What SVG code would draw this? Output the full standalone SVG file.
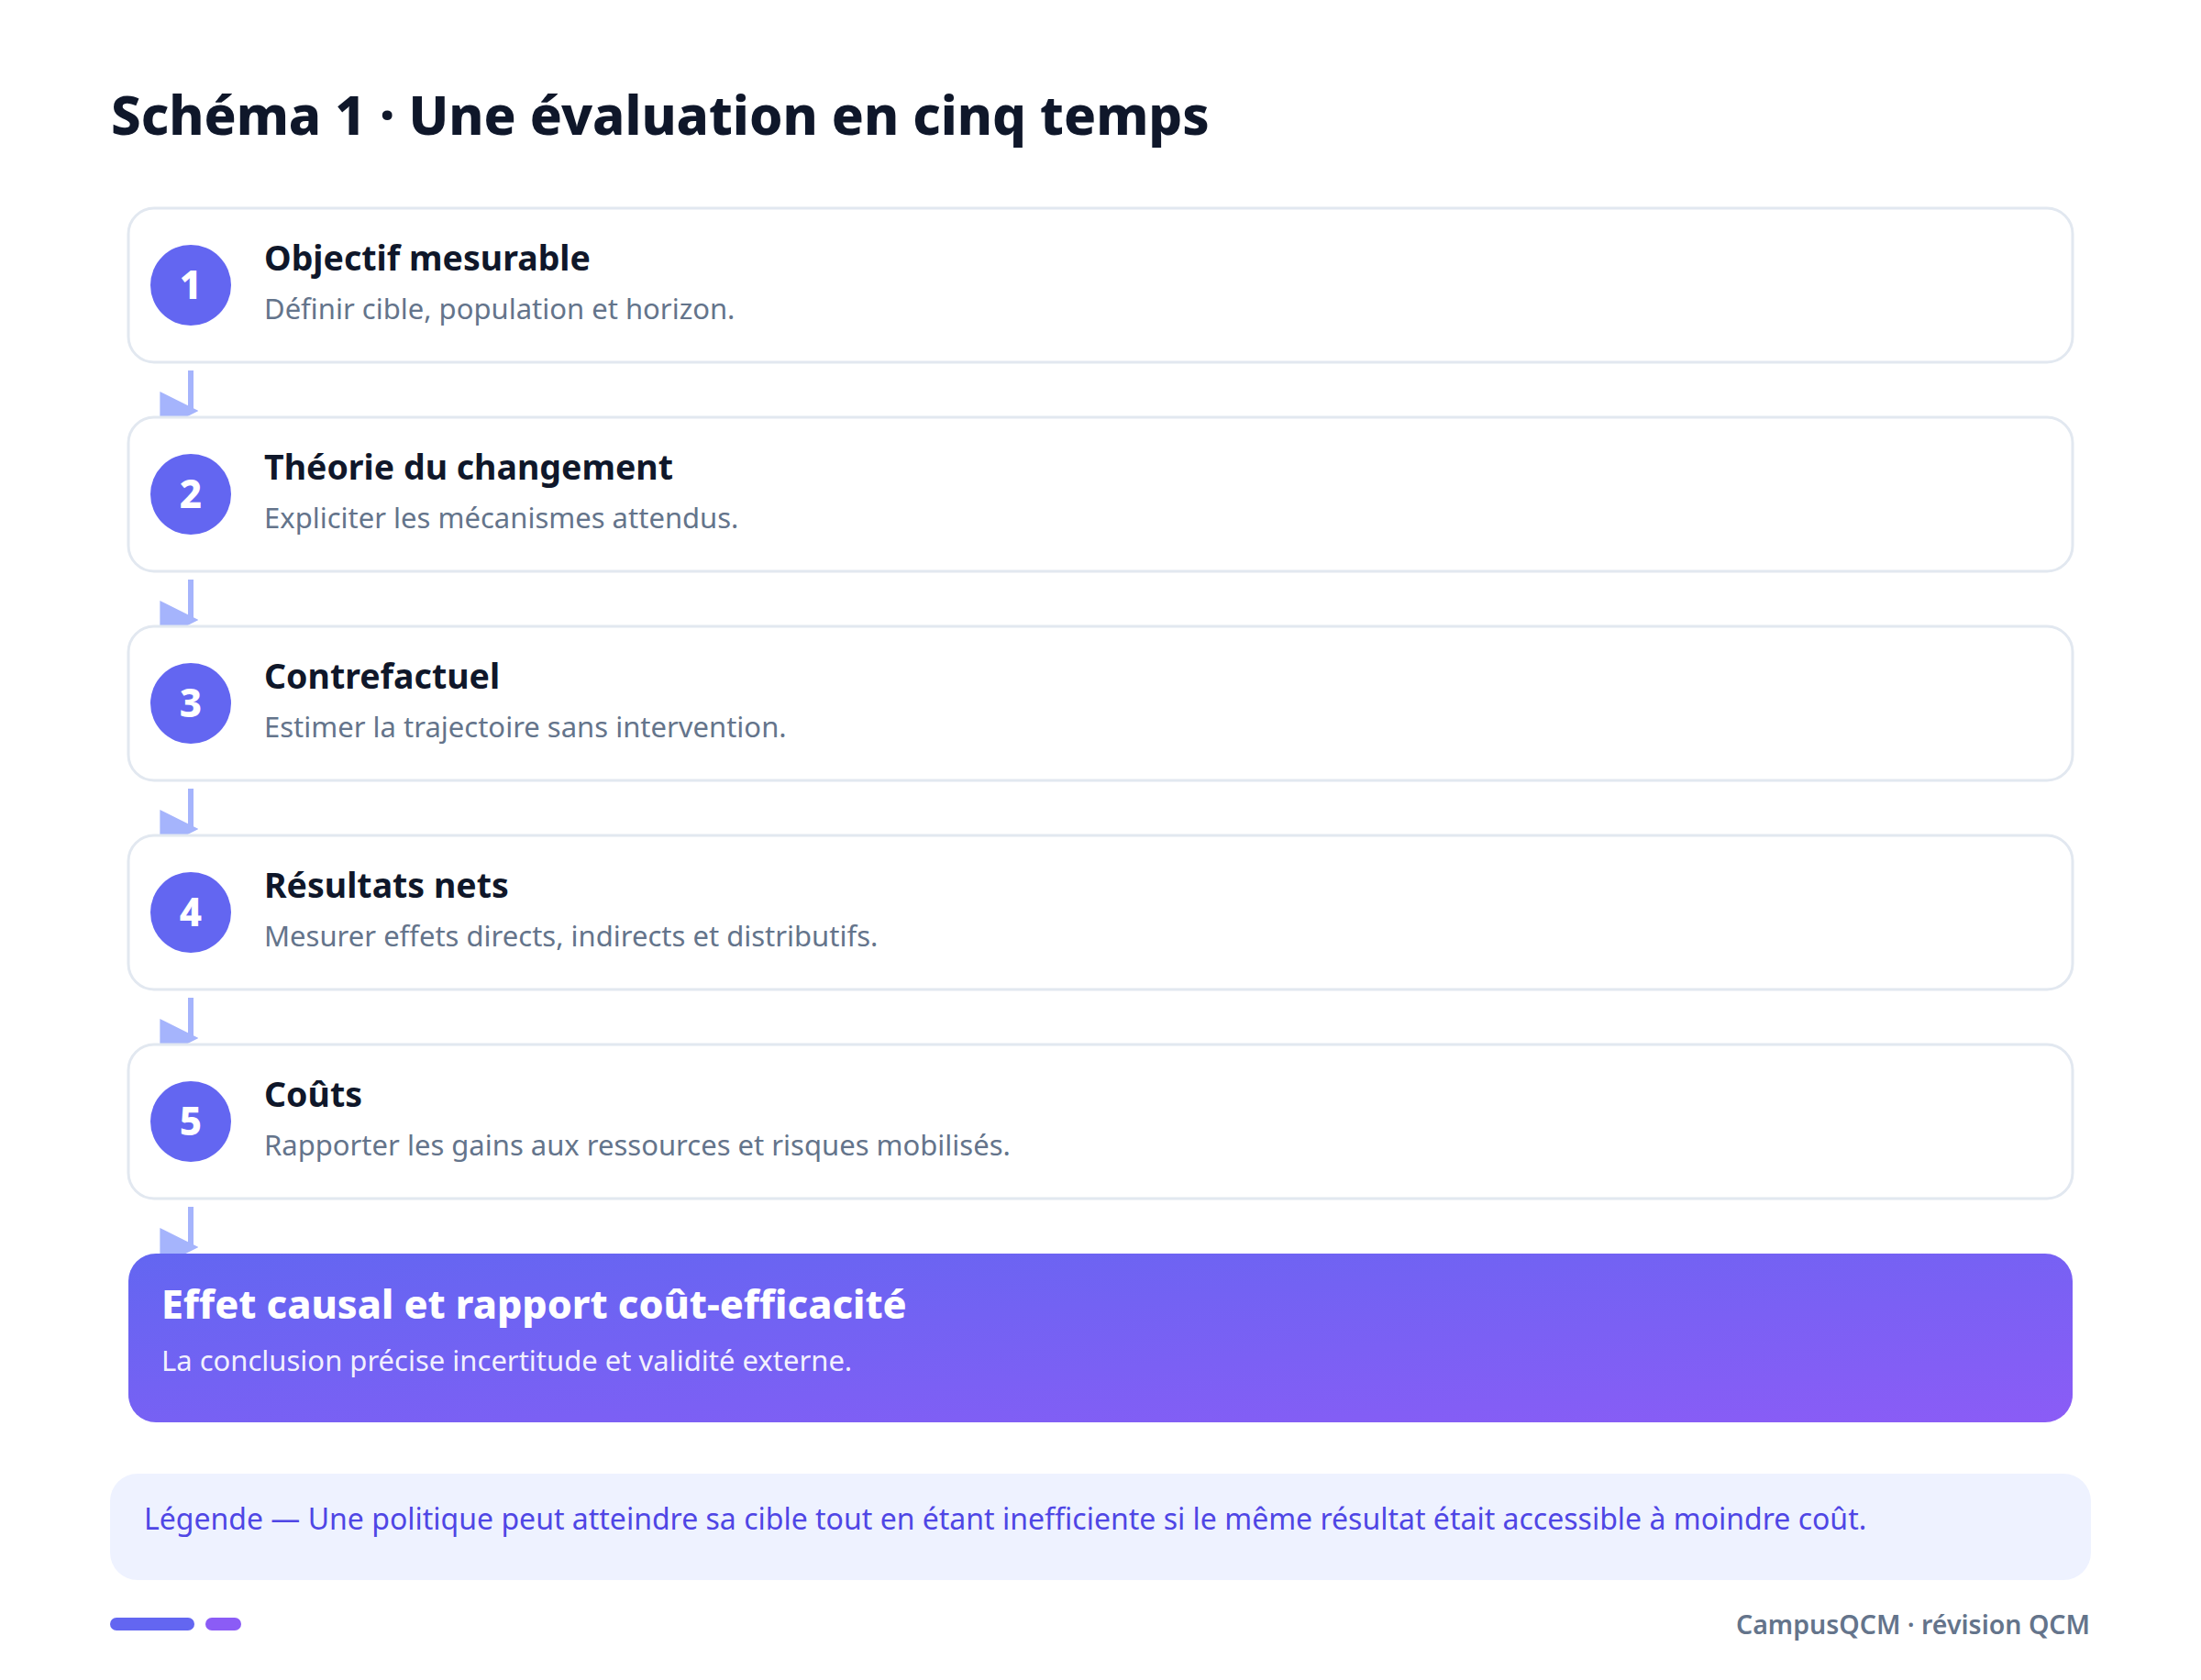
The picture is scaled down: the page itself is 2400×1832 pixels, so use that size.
<svg xmlns="http://www.w3.org/2000/svg" width="2400" height="1832" viewBox="0 0 2400 1832">
  <defs>
    <style>
      .title { font-family: "Noto Sans", "Open Sans", sans-serif; font-weight: 800; font-size: 58px; fill: #0F172A; }
      .card { fill: #FFFFFF; stroke: #E2E8F0; stroke-width: 3; }
      .badge { fill: #6366F1; }
      .num { font-family: "Noto Sans", sans-serif; font-weight: 800; font-size: 42px; fill: #FFFFFF; text-anchor: middle; }
      .ctitle { font-family: "Noto Sans", sans-serif; font-weight: 700; font-size: 37.5px; fill: #0F172A; }
      .csub { font-family: "Noto Sans", sans-serif; font-weight: 400; font-size: 31px; fill: #64748B; }
      .conn { stroke: #A5B4FC; stroke-width: 6; fill: none; marker-end: url(#arrow); }
      .ftitle { font-family: "Noto Sans", sans-serif; font-weight: 800; font-size: 43px; fill: #FFFFFF; }
      .fsub { font-family: "Noto Sans", sans-serif; font-weight: 400; font-size: 31px; fill: #FFFFFF; fill-opacity: 0.93; }
      .legend { font-family: "Noto Sans", sans-serif; font-weight: 400; font-size: 32px; fill: #4F46E5; }
      .footer { font-family: "Noto Sans", sans-serif; font-weight: 600; font-size: 28.5px; fill: #64748B; text-anchor: end; }
    </style>
    <marker id="arrow" viewBox="0 0 10 10" refX="8" refY="5" markerWidth="7" markerHeight="7">
      <path d="M0,0 L10,5 L0,10 z" fill="#A5B4FC"/>
    </marker>
    <linearGradient id="grad" x1="0" y1="0" x2="1" y2="1">
      <stop offset="0" stop-color="#6366F1"/>
      <stop offset="1" stop-color="#8B5CF6"/>
    </linearGradient>
  </defs>
  <rect x="0" y="0" width="2400" height="1832" fill="#FFFFFF"/>

  <text class="title" x="121" y="147">Schéma 1 · Une évaluation en cinq temps</text>

  <g id="connectors">
    <line class="conn" x1="208" y1="404" x2="208" y2="448"/>
    <line class="conn" x1="208" y1="632" x2="208" y2="676"/>
    <line class="conn" x1="208" y1="860" x2="208" y2="904"/>
    <line class="conn" x1="208" y1="1088" x2="208" y2="1132"/>
    <line class="conn" x1="208" y1="1316" x2="208" y2="1360"/>
  </g>

  <g id="step1">
    <rect class="card" x="140" y="227" width="2120" height="168" rx="28"/>
    <circle class="badge" cx="208" cy="311" r="44"/>
    <text class="num" x="208" y="326">1</text>
    <text class="ctitle" x="288" y="295">Objectif mesurable</text>
    <text class="csub" x="288" y="348">Définir cible, population et horizon.</text>
  </g>
  <g id="step2">
    <rect class="card" x="140" y="455" width="2120" height="168" rx="28"/>
    <circle class="badge" cx="208" cy="539" r="44"/>
    <text class="num" x="208" y="554">2</text>
    <text class="ctitle" x="288" y="523">Théorie du changement</text>
    <text class="csub" x="288" y="576">Expliciter les mécanismes attendus.</text>
  </g>
  <g id="step3">
    <rect class="card" x="140" y="683" width="2120" height="168" rx="28"/>
    <circle class="badge" cx="208" cy="767" r="44"/>
    <text class="num" x="208" y="782">3</text>
    <text class="ctitle" x="288" y="751">Contrefactuel</text>
    <text class="csub" x="288" y="804">Estimer la trajectoire sans intervention.</text>
  </g>
  <g id="step4">
    <rect class="card" x="140" y="911" width="2120" height="168" rx="28"/>
    <circle class="badge" cx="208" cy="995" r="44"/>
    <text class="num" x="208" y="1010">4</text>
    <text class="ctitle" x="288" y="979">Résultats nets</text>
    <text class="csub" x="288" y="1032">Mesurer effets directs, indirects et distributifs.</text>
  </g>
  <g id="step5">
    <rect class="card" x="140" y="1139" width="2120" height="168" rx="28"/>
    <circle class="badge" cx="208" cy="1223" r="44"/>
    <text class="num" x="208" y="1238">5</text>
    <text class="ctitle" x="288" y="1207">Coûts</text>
    <text class="csub" x="288" y="1260">Rapporter les gains aux ressources et risques mobilisés.</text>
  </g>

  <g id="result">
    <rect x="140" y="1367" width="2120" height="184" rx="30" fill="url(#grad)"/>
    <text class="ftitle" x="176" y="1438">Effet causal et rapport coût-efficacité</text>
    <text class="fsub" x="176" y="1495">La conclusion précise incertitude et validité externe.</text>
  </g>

  <g id="legend">
    <rect x="120" y="1607" width="2160" height="116" rx="30" fill="#EEF2FF"/>
    <text class="legend" x="157" y="1668">Légende — Une politique peut atteindre sa cible tout en étant inefficiente si le même résultat était accessible à moindre coût.</text>
  </g>

  <g id="footer">
    <rect x="120" y="1764" width="92" height="14" rx="7" fill="#6366F1"/>
    <rect x="224" y="1764" width="39" height="14" rx="7" fill="#8B5CF6"/>
    <text class="footer" x="2279" y="1782">CampusQCM · révision QCM</text>
  </g>
</svg>
